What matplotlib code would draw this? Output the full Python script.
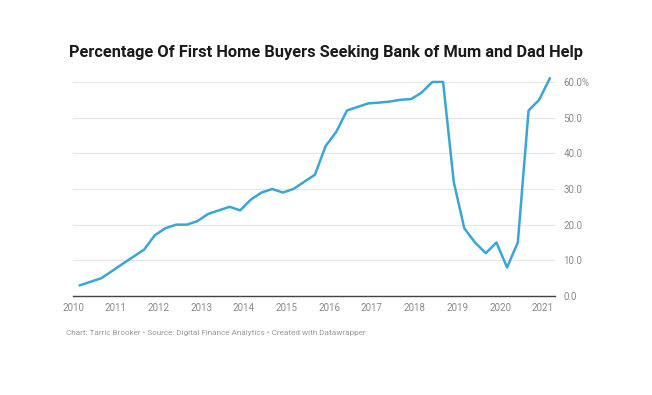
import numpy as np
import pandas as pd
import matplotlib
matplotlib.use('Agg')
import matplotlib.pyplot as plt
import matplotlib.dates as mdates

# Quarterly readings (month of each reading)
dates = ['2010-03', '2010-06', '2010-09', '2010-12',
         '2011-03', '2011-06', '2011-09', '2011-12',
         '2012-03', '2012-06', '2012-09', '2012-12',
         '2013-03', '2013-06', '2013-09', '2013-12',
         '2014-03', '2014-06', '2014-09', '2014-12',
         '2015-03', '2015-06', '2015-09', '2015-12',
         '2016-03', '2016-06', '2016-09', '2016-12',
         '2017-03', '2017-06', '2017-09', '2017-12',
         '2018-03', '2018-06', '2018-09', '2018-12',
         '2019-03', '2019-06', '2019-09', '2019-12',
         '2020-03', '2020-06', '2020-09', '2020-12',
         '2021-03']
pct = [3, 4, 5, 7,
       9, 11, 13, 17,
       19, 20, 20, 21,
       23, 24, 25, 24,
       27, 29, 30, 29,
       30, 32, 34, 42,
       46, 52, 53, 54,
       54.2, 54.5, 55, 55.2,
       57, 60, 60, 32,
       19, 15, 12, 15,
       8, 15, 52, 55,
       61]
years = list(range(2010, 2022))
yticks = [0, 10, 20, 30, 40, 50, 60]

plt.rcParams['font.family'] = ['Roboto', 'DejaVu Sans']

fig = plt.figure(figsize=(6.52, 3.95), dpi=100)
ax = fig.add_axes([73 / 652, 1 - 296 / 395, (555 - 73) / 652, (296 - 76.6) / 395])

x = pd.to_datetime(dates)
ax.plot(x, pct, color='#3ba6d2', linewidth=1.8, clip_on=False, zorder=3)

ax.set_xlim(pd.Timestamp('2010-01-01'), pd.Timestamp('2021-04-15'))
ax.set_ylim(0, 61.5)

ax.set_xticks([pd.Timestamp(f'{y}-01-01') for y in years])
ax.xaxis.set_major_formatter(mdates.DateFormatter('%Y'))
ax.set_yticks(yticks)
ax.set_yticklabels([f'{v:.1f}%' if v == 60 else f'{v:.1f}' for v in yticks])
ax.yaxis.tick_right()

ax.tick_params(axis='both', length=0, labelsize=7, labelcolor='#8a8a8a')
ax.tick_params(axis='y', pad=6)
ax.tick_params(axis='x', pad=5)

ax.grid(axis='y', color='#e6e6e6', linewidth=0.8)
ax.set_axisbelow(True)
for side in ['top', 'right', 'left']:
    ax.spines[side].set_visible(False)
ax.spines['bottom'].set_color('#444444')
ax.spines['bottom'].set_linewidth(1.0)

fig.text(0.5, 1 - 52 / 395, 'Percentage Of First Home Buyers Seeking Bank of Mum and Dad Help',
         ha='center', va='center', fontsize=11.8, fontweight='bold', color='#1a1a1a')
fig.text(66 / 652, 1 - 333 / 395,
         'Chart: Tarric Brooker \u2022 Source: Digital Finance Analytics \u2022 Created with Datawrapper',
         ha='left', va='center', fontsize=5.9, color='#9a9a9a')

fig.savefig('out.png', dpi=100)
